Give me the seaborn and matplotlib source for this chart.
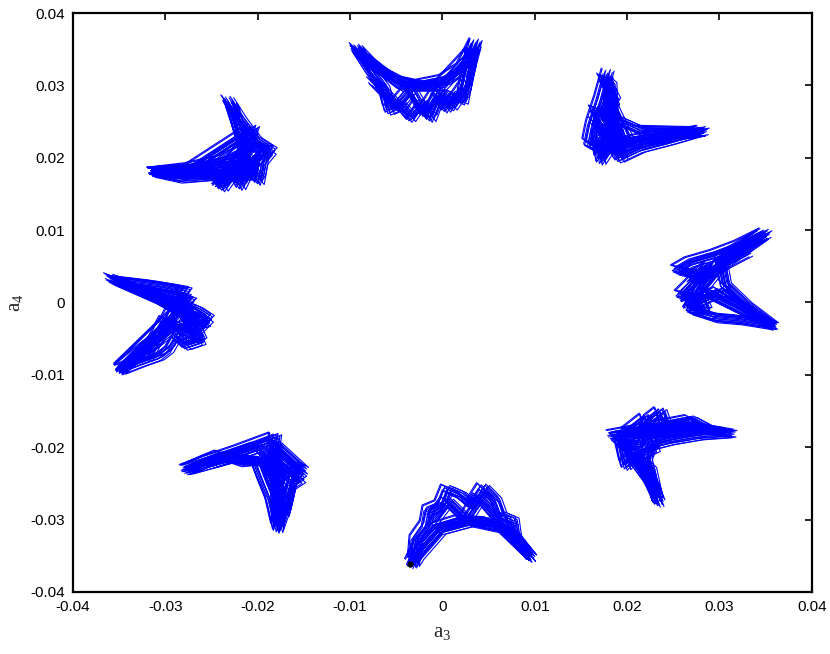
import pandas as pd
import matplotlib
matplotlib.use("Agg")
import matplotlib.pyplot as plt
import seaborn as sns

# Vertices of the eight trajectory clusters (a3, a4)
TOP_X = [-0.0094, -0.0073, -0.0049, -0.0024, 0.0003, 0.0022, 0.0036, 0.0028, 0.0022, 0.0011, 0.0003, -0.0005,
         -0.0013, -0.0024, -0.0035, -0.0046, -0.0058, -0.0064, -0.0078, -0.0093, -0.0089, -0.0045, -0.0002, 0.0032,
         0.0030, 0.0025, 0.0010, -0.0005, -0.0020, -0.0035, -0.0050, -0.0075]
TOP_Y = [0.0352, 0.0324, 0.0308, 0.0301, 0.0308, 0.0324, 0.0359, 0.0321, 0.0280, 0.0287, 0.0269, 0.0283,
         0.0256, 0.0276, 0.0256, 0.0273, 0.0266, 0.0296, 0.0319, 0.0349, 0.0342, 0.0299, 0.0299, 0.0346,
         0.0330, 0.0300, 0.0272, 0.0292, 0.0262, 0.0295, 0.0272, 0.0305]

TR_X = [0.0179, 0.0171, 0.0162, 0.0158, 0.0171, 0.0198, 0.0236, 0.0282, 0.0247, 0.0214, 0.0191, 0.0182,
        0.0171, 0.0168, 0.0184, 0.0177, 0.0186, 0.0174, 0.0182, 0.0184, 0.0165, 0.0214, 0.0279,
        0.0240, 0.0168, 0.0200, 0.0180, 0.0195, 0.0165]
TR_Y = [0.0317, 0.0280, 0.0245, 0.0220, 0.0211, 0.0218, 0.0227, 0.0238, 0.0225, 0.0214, 0.0200, 0.0218,
        0.0197, 0.0231, 0.0241, 0.0259, 0.0280, 0.0310, 0.0301, 0.0218, 0.0266, 0.0238, 0.0236,
        0.0232, 0.0215, 0.0225, 0.0280, 0.0205, 0.0250]

TL_X = [-0.0233, -0.0219, -0.0203, -0.0186, -0.0195, -0.0199, -0.0210, -0.0219, -0.0227, -0.0238, -0.0246, -0.0284,
        -0.0313, -0.0273, -0.0235, -0.0213, -0.0221, -0.0230, -0.0227, -0.0208, -0.0313, -0.0208, -0.0192,
        -0.0215, -0.0245, -0.0200, -0.0225, -0.0205, -0.0280]
TL_Y = [0.0280, 0.0252, 0.0225, 0.0211, 0.0197, 0.0169, 0.0186, 0.0162, 0.0180, 0.0160, 0.0176, 0.0172,
        0.0180, 0.0186, 0.0197, 0.0211, 0.0238, 0.0273, 0.0266, 0.0176, 0.0180, 0.0190, 0.0214,
        0.0215, 0.0165, 0.0200, 0.0170, 0.0240, 0.0178]

L_X = [-0.0360, -0.0327, -0.0295, -0.0267, -0.0254, -0.0267, -0.0262, -0.0278, -0.0289, -0.0297, -0.0307, -0.0327,
       -0.0349, -0.0322, -0.0300, -0.0289, -0.0278, -0.0311, -0.0357, -0.0284, -0.0257, -0.0295, -0.0349, -0.0273,
       -0.0330, -0.0270, -0.0290, -0.0265, -0.0300, -0.0320]
L_Y = [0.0034, 0.0017, 0.0003, -0.0010, -0.0021, -0.0038, -0.0052, -0.0059, -0.0045, -0.0063, -0.0073, -0.0082,
       -0.0093, -0.0059, -0.0031, -0.0003, 0.0017, 0.0024, 0.0031, -0.0010, -0.0027, -0.0038, -0.0091, 0.0003,
       0.0020, -0.0025, 0.0005, -0.0050, -0.0025, -0.0075]

BL_X = [-0.0278, -0.0251, -0.0219, -0.0181, -0.0184, -0.0165, -0.0154, -0.0165, -0.0170, -0.0179, -0.0186, -0.0195,
        -0.0203, -0.0219, -0.0240, -0.0257, -0.0276, -0.0230, -0.0192, -0.0175, -0.0178, -0.0181, -0.0152,
        -0.0160, -0.0172, -0.0190, -0.0170, -0.0200, -0.0250]
BL_Y = [-0.0231, -0.0218, -0.0204, -0.0186, -0.0211, -0.0231, -0.0243, -0.0252, -0.0280, -0.0312, -0.0273, -0.0245,
        -0.0218, -0.0220, -0.0211, -0.0220, -0.0231, -0.0215, -0.0220, -0.0259, -0.0308, -0.0197, -0.0231,
        -0.0225, -0.0290, -0.0225, -0.0240, -0.0200, -0.0222]

B_X = [-0.0034, -0.0024, -0.0008, 0.0019, 0.0052, 0.0076, 0.0095, 0.0079, 0.0076, 0.0063, 0.0057, 0.0044,
       0.0032, 0.0019, 0.0005, -0.0002, -0.0015, -0.0018, -0.0029, -0.0031, -0.0026, -0.0002, 0.0030, 0.0063, 0.0093,
       0.0080, 0.0060, 0.0040, 0.0025, 0.0005, -0.0010]
B_Y = [-0.0361, -0.0335, -0.0312, -0.0301, -0.0303, -0.0321, -0.0352, -0.0328, -0.0301, -0.0294, -0.0273, -0.0256,
       -0.0280, -0.0266, -0.0258, -0.0280, -0.0287, -0.0308, -0.0328, -0.0359, -0.0349, -0.0314, -0.0303, -0.0312, -0.0349,
       -0.0330, -0.0300, -0.0270, -0.0300, -0.0275, -0.0300]

BR_X = [0.0184, 0.0214, 0.0241, 0.0279, 0.0312, 0.0279, 0.0247, 0.0225, 0.0220, 0.0225, 0.0234, 0.0220,
        0.0209, 0.0198, 0.0193, 0.0214, 0.0225, 0.0236, 0.0241, 0.0269, 0.0285, 0.0187, 0.0225, 0.0232,
        0.0228, 0.0205, 0.0230, 0.0220, 0.0200, 0.0260]
BR_Y = [-0.0183, -0.0176, -0.0169, -0.0173, -0.0180, -0.0183, -0.0190, -0.0197, -0.0218, -0.0245, -0.0276, -0.0238,
        -0.0211, -0.0225, -0.0197, -0.0197, -0.0162, -0.0151, -0.0169, -0.0162, -0.0173, -0.0187, -0.0231, -0.0273,
        -0.0255, -0.0215, -0.0200, -0.0160, -0.0180, -0.0178]

R_X = [0.0350, 0.0323, 0.0296, 0.0269, 0.0254, 0.0279, 0.0269, 0.0258, 0.0279, 0.0285, 0.0269, 0.0296,
       0.0323, 0.0357, 0.0328, 0.0306, 0.0301, 0.0323, 0.0347, 0.0301, 0.0279, 0.0355,
       0.0300, 0.0265, 0.0290, 0.0270, 0.0330]
R_Y = [0.0096, 0.0079, 0.0066, 0.0056, 0.0045, 0.0038, 0.0024, 0.0010, 0.0006, -0.0010, -0.0010, -0.0021,
       -0.0024, -0.0031, -0.0003, 0.0024, 0.0059, 0.0075, 0.0093, 0.0052, 0.0017, -0.0031,
       0.0015, -0.0005, 0.0050, 0.0030, 0.0070]

# small shifts between successive passes of the orbit (the hatched look)
PASS_DX = [0.0, 0.0002, 0.0004, -0.0002, 0.0003, -0.0004, 0.0001, -0.0003, 0.0005, -0.0001,
           0.0006, -0.0006, 0.0007, -0.0005, 0.0002, -0.0007]
PASS_DY = [0.0, 0.0003, -0.0002, 0.0004, 0.0005, -0.0003, -0.0004, 0.0002, 0.0001, -0.0005,
           -0.0006, 0.0006, 0.0003, -0.0001, -0.0007, 0.0007]

START_X = [-0.0035]
START_Y = [-0.0362]

TICKS = [-0.04, -0.03, -0.02, -0.01, 0, 0.01, 0.02, 0.03, 0.04]
TICK_LABELS = ['-0.04', '-0.03', '-0.02', '-0.01', '0', '0.01', '0.02', '0.03', '0.04']

clusters = [(TOP_X, TOP_Y), (TR_X, TR_Y), (R_X, R_Y), (BR_X, BR_Y),
            (B_X, B_Y), (BL_X, BL_Y), (L_X, L_Y), (TL_X, TL_Y)]

rows = []
for c, (cx, cy) in enumerate(clusters):
    for p, (dx, dy) in enumerate(zip(PASS_DX, PASS_DY)):
        for x, y in zip(cx, cy):
            rows.append({'a3': x + dx, 'a4': y + dy, 'strand': f'{c}-{p}'})
df = pd.DataFrame(rows)

sns.set_style("white")
plt.rcParams['font.family'] = ['Liberation Sans', 'DejaVu Sans']
plt.rcParams['mathtext.fontset'] = 'custom'
plt.rcParams['mathtext.rm'] = 'Liberation Serif'
plt.rcParams['mathtext.it'] = 'Liberation Serif'

fig = plt.figure(figsize=(8.3, 6.54), dpi=100)
ax = fig.add_axes([0.088, 0.095, 0.890, 0.885])

sns.lineplot(data=df, x='a3', y='a4', units='strand', estimator=None, sort=False,
             color='#0000ff', linewidth=0.8, ax=ax, legend=False)
# starting point of the trajectory
ax.plot(START_X, START_Y, 'o', color='black', markersize=3.5, zorder=5)

ax.set_xlim(-0.04, 0.04)
ax.set_ylim(-0.04, 0.04)
ax.set_xticks(TICKS)
ax.set_xticklabels(TICK_LABELS)
ax.set_yticks(TICKS)
ax.set_yticklabels(TICK_LABELS)
ax.tick_params(direction='in', length=5, width=1.2, labelsize=11, colors='black',
               top=True, right=True, pad=6)
for s in ax.spines.values():
    s.set_color('black')
    s.set_linewidth(1.6)

ax.set_xlabel(r'$\mathrm{a}_3$', fontsize=15, labelpad=6)
ax.set_ylabel(r'$\mathrm{a}_4$', fontsize=15, labelpad=4)

fig.savefig('out.png', dpi=100)
